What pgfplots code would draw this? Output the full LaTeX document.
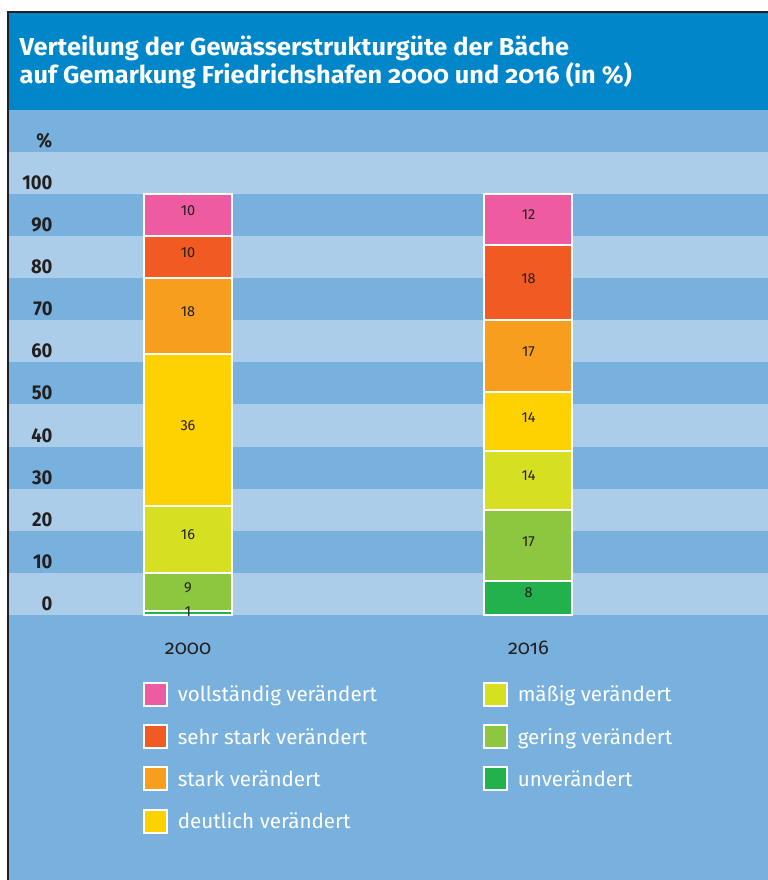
\documentclass[border=0pt]{standalone}
\usepackage{pgfplots}
\pgfplotsset{compat=1.18}
\usepackage{pgfplotstable}
\usepackage{fontspec}
\setmainfont{Fira Sans}
\newfontfamily\ftitle[Numbers=OldStyle,FakeStretch=1.035]{Fira Sans}
\newfontfamily\fyear[Numbers=OldStyle]{Fira Sans}
\newfontfamily\ftick[FakeStretch=0.92]{Fira Sans}

\definecolor{border}{RGB}{35,31,32}
\definecolor{titlebg}{RGB}{0,134,201}
\definecolor{stripedark}{RGB}{121,177,222}
\definecolor{stripelight}{RGB}{171,205,234}
\definecolor{cvol}{RGB}{239,91,161}
\definecolor{csst}{RGB}{241,90,34}
\definecolor{csta}{RGB}{247,158,31}
\definecolor{cdeu}{RGB}{253,210,0}
\definecolor{cmas}{RGB}{215,223,35}
\definecolor{cger}{RGB}{141,198,63}
\definecolor{cunv}{RGB}{35,177,77}
\definecolor{txt}{RGB}{35,31,32}

% shares in percent, stacked bottom (unveraendert) to top (vollstaendig)
\pgfplotstableread{
x unv ger mas deu sta sst vol
0 1 9 16 36 18 10 10
1 8 17 14 14 17 18 12
}\shares

% value labels (placed in the middle of each segment)
\pgfplotstableread{
x y lab
0 0.8 1
0 6.5 9
0 19 16
0 45 36
0 72 18
0 86 10
0 96 10
1 5.2 8
1 17.5 17
1 33 14
1 47 14
1 62.5 17
1 80 18
1 95 12
}\labels

\pgfplotsset{
  overlay axis/.style={
    at={(9.3bp,265bp)}, anchor=south west,
    scale only axis, width=758.7bp, height=421bp,
    xmin=-0.5248, xmax=1.7034, ymin=0, ymax=100,
    clip=false,
    axis line style={draw=none},
    major tick length=0pt,
  },
  sqlegend/.style={
    legend style={at={(#1)}, anchor=north west, draw=none, fill=none,
      inner sep=0pt, outer sep=0pt, row sep=17.3bp,
      cells={anchor=base west},
      nodes={inner sep=0pt, text=white, font=\fontsize{20.6bp}{25bp}\selectfont},
      /tikz/every odd column/.style={column sep=9.5bp}},
    legend image code/.code={\draw[##1, draw=white, line width=2bp] (1bp,-3.8bp) rectangle (24bp,19.2bp);},
  },
}

\begin{document}
\begin{tikzpicture}
\fill[white] (0,0) rectangle (768bp,880bp);
\fill[stripedark] (9.3bp,0) rectangle (768bp,866.7bp);
\foreach \v in {0,20,40,60,80,100} {
  \fill[stripelight] (9.3bp,{(265+4.21*\v)*1bp}) rectangle (768bp,{(265+4.21*(\v+10))*1bp});
}
\fill[titlebg] (9.3bp,770bp) rectangle (768bp,866.7bp);
\draw[border, line width=2.6bp] (8bp,0) -- (8bp,868bp) -- (768bp,868bp);

\node[anchor=base west, inner sep=0pt, text=white, font=\ftitle\bfseries\fontsize{24.5bp}{29bp}\selectfont] at (19.5bp,824.3bp) {Verteilung der Gewässerstrukturgüte der Bäche};
\node[anchor=base west, inner sep=0pt, text=white, font=\ftitle\bfseries\fontsize{24.5bp}{29bp}\selectfont] at (19.5bp,796bp) {auf Gemarkung Friedrichshafen 2000 und 2016 (in \%)};
\node[anchor=base east, inner sep=0pt, text=txt, font=\ftick\bfseries\fontsize{20bp}{24bp}\selectfont] at (52.5bp,732bp) {\%};

% bars
\begin{axis}[
  overlay axis,
  ybar stacked, bar width=88bp,
  xtick={0,1}, xticklabels={2000,2016},
  xticklabel style={anchor=base, inner sep=0pt, yshift=-40bp, text=txt,
    font=\fyear\fontsize{20bp}{24bp}\selectfont},
  ytick={0,10,...,100}, yticklabels={0,10,20,30,40,50,60,70,80,90,100},
  yticklabel style={anchor=base east, inner sep=0pt, xshift=43.4bp, yshift=4.5bp, text=txt,
    font=\ftick\bfseries\fontsize{20bp}{24bp}\selectfont},
]
\addplot[fill=cunv, draw=white, line width=2bp] table[x=x,y=unv]{\shares};
\addplot[fill=cger, draw=white, line width=2bp] table[x=x,y=ger]{\shares};
\addplot[fill=cmas, draw=white, line width=2bp] table[x=x,y=mas]{\shares};
\addplot[fill=cdeu, draw=white, line width=2bp] table[x=x,y=deu]{\shares};
\addplot[fill=csta, draw=white, line width=2bp] table[x=x,y=sta]{\shares};
\addplot[fill=csst, draw=white, line width=2bp] table[x=x,y=sst]{\shares};
\addplot[fill=cvol, draw=white, line width=2bp] table[x=x,y=vol]{\shares};
\end{axis}

% value labels + left legend column
\begin{axis}[
  overlay axis, xtick=\empty, ytick=\empty,
  sqlegend={0.1766,-0.1584},
]
\addlegendimage{fill=cvol}\addlegendentry{vollständig verändert}
\addlegendimage{fill=csst}\addlegendentry{sehr stark verändert}
\addlegendimage{fill=csta}\addlegendentry{stark verändert}
\addlegendimage{fill=cdeu}\addlegendentry{deutlich verändert}
\addplot[draw=none, mark=none, forget plot, nodes near coords={\pgfplotspointmeta},
  point meta=explicit symbolic,
  nodes near coords style={anchor=center, inner sep=0pt, text=txt, font=\fontsize{14.5bp}{17bp}\selectfont}]
  table[x=x, y=y, meta=lab]{\labels};
\end{axis}

% right legend column
\begin{axis}[
  overlay axis, xtick=\empty, ytick=\empty,
  sqlegend={0.6248,-0.1584},
]
\addlegendimage{fill=cmas}\addlegendentry{mäßig verändert}
\addlegendimage{fill=cger}\addlegendentry{gering verändert}
\addlegendimage{fill=cunv}\addlegendentry{unverändert}
\end{axis}
\pgfresetboundingbox
\useasboundingbox (0,0) rectangle (768bp,880bp);
\end{tikzpicture}
\end{document}
